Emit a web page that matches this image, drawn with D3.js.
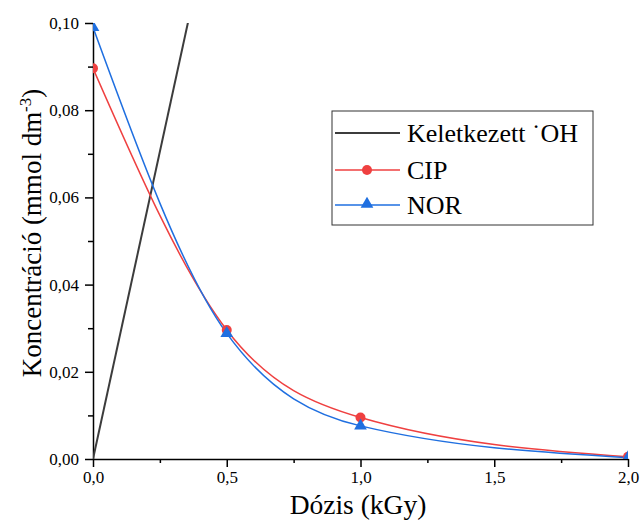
<!DOCTYPE html>
<html>
<head>
<meta charset="utf-8">
<script src="https://cdn.jsdelivr.net/npm/d3@7"></script>
<style>
  body { margin: 0; background: #fff; }
</style>
</head>
<body>
<div id="chart"></div>
<script>
const dose = [0, 0.5, 1.0, 2.0];
const cip  = [0.0896, 0.0296, 0.0095, 0.0005];
const nor  = [0.0990, 0.0288, 0.0076, 0.0003];
const ohDose = [0, 0.5];
const ohConc = [0, 0.141];

const xTicks = [0, 0.5, 1.0, 1.5, 2.0];
const yTicks = [0, 0.02, 0.04, 0.06, 0.08, 0.10];

const FONT = "Liberation Serif";

const width = 641, height = 524;
const margin = { left: 93, right: 13, top: 23, bottom: 65 };

const svg = d3.select("#chart").append("svg")
  .attr("width", width)
  .attr("height", height);

const x = d3.scaleLinear().domain([0, 2]).range([margin.left, width - margin.right]);
const y = d3.scaleLinear().domain([0, 0.10]).range([height - margin.bottom, margin.top]);

svg.append("clipPath").attr("id", "clip")
  .append("rect")
  .attr("x", x(0)).attr("y", y(0.10))
  .attr("width", x(2) - x(0)).attr("height", y(0) - y(0.10));

const fmt = d => d3.format(".2f")(d).replace(".", ",");
const fmtX = d => d3.format(".1f")(d).replace(".", ",");

// minor ticks
svg.append("g")
  .attr("transform", `translate(0,${y(0)})`)
  .call(d3.axisBottom(x).tickValues(d3.range(0.25, 2, 0.5)).tickSize(4).tickFormat(""))
  .call(g => g.select(".domain").remove());
svg.append("g")
  .attr("transform", `translate(${x(0)},0)`)
  .call(d3.axisLeft(y).tickValues(d3.range(0.01, 0.1, 0.02)).tickSize(5).tickFormat(""))
  .call(g => g.select(".domain").remove());

const xAxis = svg.append("g")
  .attr("transform", `translate(0,${y(0)})`)
  .call(d3.axisBottom(x).tickValues(xTicks).tickSize(8).tickSizeOuter(0).tickPadding(4).tickFormat(fmtX));

const yAxis = svg.append("g")
  .attr("transform", `translate(${x(0)},0)`)
  .call(d3.axisLeft(y).tickValues(yTicks).tickSize(8).tickSizeOuter(0).tickPadding(6).tickFormat(fmt));

svg.selectAll(".tick text")
  .attr("font-family", FONT)
  .attr("font-size", 17)
  .attr("fill", "#000");

svg.selectAll(".domain, .tick line").attr("stroke", "#000").attr("stroke-width", 1.5);

const plot = svg.append("g").attr("clip-path", "url(#clip)");

const line = d3.line()
  .x(d => x(d[0]))
  .y(d => y(d[1]));

plot.append("path")
  .datum(ohDose.map((d, i) => [d, ohConc[i]]))
  .attr("d", line)
  .attr("fill", "none")
  .attr("stroke", "#3c3c3c")
  .attr("stroke-width", 2);

const smooth = d3.line()
  .x(d => x(d[0]))
  .y(d => y(d[1]))
  .curve(d3.curveMonotoneX);

const cipColor = "#ef4040";
const norColor = "#1f6fe0";

plot.append("path")
  .datum(dose.map((d, i) => [d, cip[i]]))
  .attr("d", smooth)
  .attr("fill", "none")
  .attr("stroke", cipColor)
  .attr("stroke-width", 1.5);

plot.append("path")
  .datum(dose.map((d, i) => [d, nor[i]]))
  .attr("d", smooth)
  .attr("fill", "none")
  .attr("stroke", norColor)
  .attr("stroke-width", 1.5);

plot.selectAll("circle.cip")
  .data(dose.map((d, i) => [d, cip[i]]))
  .enter().append("circle")
  .attr("class", "cip")
  .attr("cx", d => x(d[0]))
  .attr("cy", d => y(d[1]))
  .attr("r", 5)
  .attr("fill", cipColor);

const tri = d3.symbol().type(d3.symbolTriangle).size(70);
plot.selectAll("path.nor")
  .data(dose.map((d, i) => [d, nor[i]]))
  .enter().append("path")
  .attr("class", "nor")
  .attr("d", tri)
  .attr("transform", d => `translate(${x(d[0])},${y(d[1])})`)
  .attr("fill", norColor);

// axis titles
svg.append("text")
  .attr("x", 358)
  .attr("y", 514)
  .attr("text-anchor", "middle")
  .attr("font-family", FONT)
  .attr("font-size", 27.5)
  .text("Dózis (kGy)");

const yt = svg.append("text")
  .attr("transform", `translate(41,233) rotate(-90)`)
  .attr("text-anchor", "middle")
  .attr("font-family", FONT)
  .attr("font-size", 27);
yt.append("tspan").text("Koncentráció (mmol dm");
yt.append("tspan").attr("dy", -10).attr("font-size", 17).text("-3");
yt.append("tspan").attr("dy", 10).text(")");

// legend
const legend = svg.append("g");
legend.append("rect")
  .attr("x", 332).attr("y", 111)
  .attr("width", 261).attr("height", 114)
  .attr("fill", "#fff")
  .attr("stroke", "#333")
  .attr("stroke-width", 1);

const entries = [
  { label: "Keletkezett ˙OH", color: "#3c3c3c", marker: null },
  { label: "CIP", color: cipColor, marker: "circle" },
  { label: "NOR", color: norColor, marker: "triangle" }
];
const rowY = [133, 170, 205];

entries.forEach((e, i) => {
  const ry = rowY[i];
  legend.append("line")
    .attr("x1", 335).attr("x2", 400)
    .attr("y1", ry).attr("y2", ry)
    .attr("stroke", e.color)
    .attr("stroke-width", e.marker ? 1.5 : 2);
  if (e.marker === "circle") {
    legend.append("circle").attr("cx", 367).attr("cy", ry).attr("r", 5).attr("fill", e.color);
  } else if (e.marker === "triangle") {
    legend.append("path").attr("d", tri).attr("transform", `translate(367,${ry - 1})`).attr("fill", e.color);
  }
  legend.append("text")
    .attr("x", 407).attr("y", ry + 9)
    .attr("font-family", FONT)
    .attr("font-size", 26)
    .text(e.label);
});
</script>
</body>
</html>
